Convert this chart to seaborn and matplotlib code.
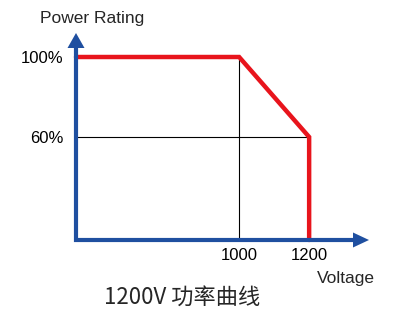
import matplotlib
matplotlib.use("Agg")
import matplotlib.pyplot as plt
import seaborn as sns
import pandas as pd

sns.set_theme(style="white")
plt.rcParams['font.family'] = ['Liberation Sans', 'DejaVu Sans']

# data
voltage = [534, 1000, 1200, 1200]
power = [100, 100, 60, 8.5]
x_ticks = [1000, 1200]
x_tick_labels = ["1000", "1200"]
y_ticks = [100, 60]
y_tick_labels = ["100%", "60%"]
title = "1200V 功率曲线"
x_label = "Voltage"
y_label = "Power Rating"

xmin, xmax = 534, 1371
ymin, ymax = 8.5, 112

W, H = 405, 320
ax_l, ax_b, ax_r, ax_t = 76, 240, 369, 33
aw, ah = ax_r - ax_l, ax_b - ax_t

fig = plt.figure(figsize=(W/100, H/100), dpi=100)
ax = fig.add_axes([ax_l/W, 1 - ax_b/H, aw/W, ah/H])
ax.set_xlim(xmin, xmax)
ax.set_ylim(ymin, ymax)
for s in ax.spines.values():
    s.set_visible(False)

# reference lines
ax.plot([1000, 1000], [ymin, 100], color="black", lw=0.8, zorder=2)
ax.plot([xmin, 1200], [60, 60], color="black", lw=0.8, zorder=2)

df = pd.DataFrame({"voltage": voltage, "power": power})
sns.lineplot(data=df, x="voltage", y="power", sort=False, estimator=None,
             errorbar=None, color="#e8141c", lw=3.2, ax=ax, zorder=3)
for ln in ax.get_lines()[-1:]:
    ln.set_solid_joinstyle("miter")
    ln.set_clip_on(False)

# axis arrows
blue = "#1f4fa0"
tr = ax.transAxes
hl_y, hw_y = 15, 8.5
hl_x, hw_x = 16, 7.5
ax.plot([0, 0, 1 - (hl_x - 2)/aw], [1 - (hl_y - 2)/ah, 0, 0], color=blue, lw=3,
        transform=tr, clip_on=False, zorder=5, solid_capstyle="butt",
        solid_joinstyle="miter")
ax.fill([0, -hw_y/aw, hw_y/aw], [1, 1 - hl_y/ah, 1 - hl_y/ah], color=blue,
        transform=tr, clip_on=False, zorder=5, lw=0)
ax.fill([1, 1 - hl_x/aw, 1 - hl_x/aw], [0, hw_x/ah, -hw_x/ah], color=blue,
        transform=tr, clip_on=False, zorder=5, lw=0)

ax.set_xticks(x_ticks)
ax.set_xticklabels(x_tick_labels)
ax.set_yticks(y_ticks)
ax.set_yticklabels(y_tick_labels)
ax.tick_params(axis="both", length=0, labelsize=12, colors="black", pad=6)
ax.tick_params(axis="y", pad=9)
ax.set_xlabel("")
ax.set_ylabel("")

fig.text(92/W, 1 - 19/H, y_label, ha="center", va="center", fontsize=12.5)
fig.text(346/W, 1 - 278/H, x_label, ha="center", va="center", fontsize=12.5)
fig.text(182/W, 1 - 297/H, title, ha="center", va="center", fontsize=16,
         family=["Noto Sans CJK SC", "DejaVu Sans"])

fig.savefig("out.png", dpi=100)
